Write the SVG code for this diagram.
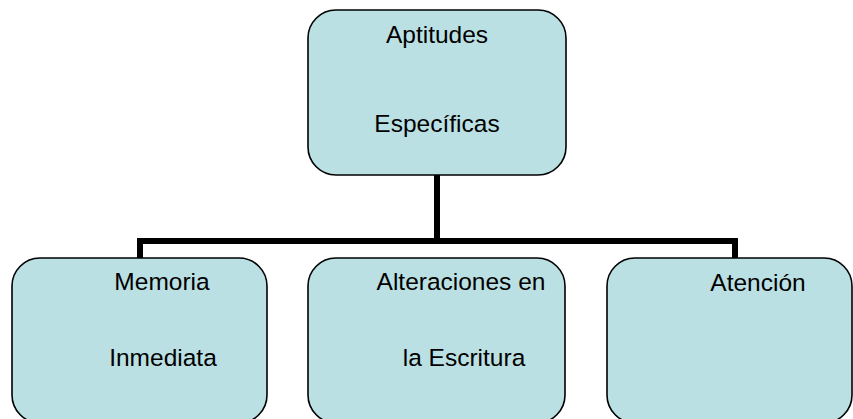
<svg xmlns="http://www.w3.org/2000/svg" width="853" height="419" viewBox="0 0 853 419">
<style>
.box{fill:#BBE0E3;stroke:#000;stroke-width:1.6}
.t{font-family:"Liberation Sans",Arial,sans-serif;font-size:24.5px;fill:#000;text-anchor:middle}
.c{fill:none;stroke:#000;stroke-width:6;stroke-linejoin:miter;stroke-linecap:butt}
</style>
<rect width="853" height="419" fill="#fff"/>
<g id="connectors">
<path class="c" d="M437,175 V241"/>
<path class="c" d="M140,258 V241 H735 V258"/>
</g>
<g id="aptitudes">
<rect class="box" x="308" y="10" width="258" height="165" rx="28" ry="28"/>
<text class="t" x="437" y="43">Aptitudes</text>
<text class="t" x="437" y="132">Específicas</text>
</g>
<g id="memoria">
<rect class="box" x="12" y="258" width="255" height="165" rx="28" ry="28"/>
<text class="t" x="162" y="290">Memoria</text>
<text class="t" x="163" y="366">Inmediata</text>
</g>
<g id="alteraciones">
<rect class="box" x="308" y="258" width="257" height="165" rx="28" ry="28"/>
<text class="t" x="461" y="290">Alteraciones en</text>
<text class="t" x="464" y="366">la Escritura</text>
</g>
<g id="atencion">
<rect class="box" x="607" y="258" width="245" height="165" rx="28" ry="28"/>
<text class="t" x="758" y="291">Atención</text>
</g>
</svg>
